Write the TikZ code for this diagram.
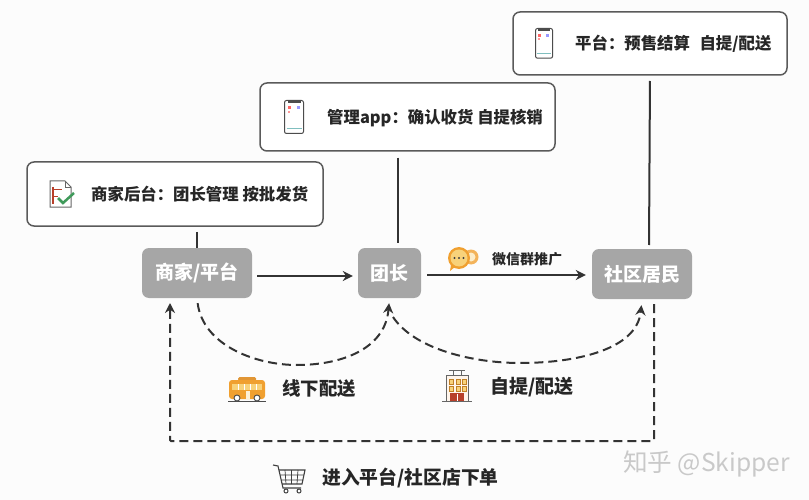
\documentclass[tikz,border=0pt]{standalone}
\usepackage{fontspec}
\setmainfont{Noto Sans CJK SC}
\usepackage{tikz}
\usetikzlibrary{arrows.meta}
\definecolor{boxgray}{HTML}{A6A6A6}
\definecolor{linedark}{HTML}{333333}
\definecolor{boxline}{HTML}{5A5A5A}
\definecolor{markgray}{HTML}{C9C9C9}
\definecolor{iconorange}{HTML}{F0A030}
\definecolor{iconyellow}{HTML}{F8D27A}
\definecolor{iconred}{HTML}{B8402A}
\definecolor{icongreen}{HTML}{3F9A5A}
\tikzstyle{infobox}=[draw=boxline,line width=1.5pt,rounded corners=7pt,fill=white,inner sep=0pt]
\tikzstyle{rolebox}=[fill=boxgray,rounded corners=7pt,text=white,font=\fontsize{19}{21}\selectfont\bfseries,inner sep=0pt,minimum height=50pt]
\tikzstyle{lbl}=[anchor=west,inner sep=0pt,text=black!85,font=\fontsize{16.4}{18}\selectfont\bfseries]
\tikzstyle{solidline}=[draw=linedark,line width=2pt]
\tikzstyle{solidarrow}=[solidline,-{Stealth[length=10pt,width=10pt]}]
\tikzstyle{dasharrow}=[draw=linedark,line width=2pt,dash pattern=on 9pt off 5pt,-{Stealth[length=10pt,width=10pt]}]
\newcommand{\phoneicon}[3]{
\draw[draw=black!70,line width=1pt,fill=white,rounded corners=2pt,shift={(#1,#2)},scale=#3] (0,0) rectangle (19,33);
\fill[black!70,shift={(#1,#2)},scale=#3] (3,0.5) rectangle (16,3);
\fill[red!60,shift={(#1,#2)},scale=#3] (3,6) rectangle (6,9);
\fill[blue!40,shift={(#1,#2)},scale=#3] (12,6) rectangle (15,9);
\fill[red!40,shift={(#1,#2)},scale=#3] (3,11) rectangle (5,13);
\draw[draw=teal!50,line width=.7pt,shift={(#1,#2)},scale=#3] (2,28) -- (17,28);
}
\begin{document}
\begin{tikzpicture}[x=1pt,y=-1pt]
\useasboundingbox (0,0) rectangle (809,500);
\fill[white!99!black] (0,0) rectangle (809,500);

\node[infobox,minimum width=296pt,minimum height=64pt] (backendbox) at (175,194) {};
\node[infobox,minimum width=295pt,minimum height=68pt] (leaderbox) at (407.5,117) {};
\node[infobox,minimum width=274pt,minimum height=63pt] (platformbox) at (650,43.5) {};
\node[lbl] (backendtxt) at (91,194) {商家后台：团长管理 按批发货};
\node[lbl] (leadertxt) at (327,118) {管理app：确认收货 自提核销};
\node[lbl] (platformtxt) at (575,44) {平台：预售结算\hspace{.35em} 自提/配送};

\node[rolebox,minimum width=110pt] (merchant) at (197,273) {商家/平台};
\node[rolebox,minimum width=63pt] (leader) at (389.5,273) {团长};
\node[rolebox,minimum width=100pt] (resident) at (642,274) {社区居民};

\coordinate (merchanttop) at (197,248);
\coordinate (leadertop) at (398,248);
\coordinate (residenttop) at (649,249);
\coordinate (platformout) at (650,75);
\coordinate (merchantin) at (170,298);
\coordinate (residentout) at (654,299);
\coordinate (cornerright) at (654,441);
\coordinate (cornerleft) at (170,441);

\draw[solidline,shorten <=5pt] (backendbox.south -| merchanttop) -- (merchanttop);
\draw[solidline,shorten <=6pt,shorten >=5pt] (leaderbox.south -| leadertop) -- (leadertop);
\draw[solidline,shorten <=6pt,shorten >=4pt] (platformout) -- (residenttop);
\draw[solidarrow,shorten <=5pt,shorten >=5pt] (merchant.east |- 0,276) -- (leader.west |- 0,276);
\draw[solidarrow,shorten <=6pt,shorten >=6pt] (leader.east |- 0,275) -- (resident.west |- 0,275);
\draw[dasharrow,shorten <=5pt,shorten >=5pt] (merchant.south) .. controls (203,345) and (255,365) .. (297,365) .. controls (340,365) and (385,350) .. (leader.south);
\draw[dasharrow,shorten >=6pt] (393,317) .. controls (415,350) and (475,363) .. (520,363) .. controls (575,363) and (637,350) .. (resident.south);
\draw[dasharrow,shorten <=5pt,shorten >=5pt,rounded corners=1pt] (residentout) -- (cornerright) -- (cornerleft) -- (merchantin);

\node[lbl] (wechattxt) at (492,259) {\fontsize{14}{15}\selectfont 微信群推广};
\node[lbl] (offlinetxt) at (282,389) {\fontsize{18.4}{20}\selectfont 线下配送};
\node[lbl] (pickuptxt) at (490,387) {\fontsize{19}{21}\selectfont 自提/配送};
\node[lbl] (ordertxt) at (322,478) {\fontsize{18.8}{21}\selectfont 进入平台/社区店下单};
\node[anchor=west,inner sep=0pt,text=markgray,font=\fontsize{24.6}{27}\selectfont] (watermark) at (623,464) {知乎 @Skipper};

\draw[draw=black!60,line width=1pt,fill=white] (50,181) -- (65,181) -- (71,187) -- (71,207) -- (50,207) -- cycle;
\draw[draw=black!60,line width=.8pt] (65,181) -- (65,187) -- (71,187);
\draw[draw=iconred,line width=1.3pt] (53,187) -- (53,204);
\draw[draw=iconred,line width=.9pt] (53,189) -- (62,189) (53,196) -- (58,196);
\draw[draw=icongreen,line width=2.5pt] (58,198) -- (63,203) -- (74,193);

\phoneicon{284.5}{100.5}{1}
\phoneicon{535.5}{28.5}{.9}

\fill[iconorange!80!white] (471,257) circle (7.5);
\fill[white!60!iconyellow] (471,257) circle (4.5);
\fill[iconorange] (459,258) circle (11);
\fill[iconorange] (451,265) -- (456,266) -- (450,271) -- cycle;
\fill[iconyellow] (459,258) circle (8.5);
\fill[black!75] (454.5,258) circle (1.2) (459,258) circle (1.2) (463.5,258) circle (1.2);

\fill[iconorange!70!brown,rounded corners=1.5pt] (238,377) rectangle (256,381);
\fill[iconorange,rounded corners=3pt] (229,380) rectangle (265,399);
\fill[iconyellow] (232,384) rectangle (262,390);
\draw[draw=white,line width=.8pt] (238,384) -- (238,390) (244,384) -- (244,390) (250,384) -- (250,390) (256,384) -- (256,390);
\fill[white!70!iconyellow] (246,391) rectangle (250,399);
\draw[draw=black!70,line width=.9pt] (228,401) -- (266,401);
\draw[draw=black!70,line width=.9pt,fill=white] (237,398) circle (3) (257,398) circle (3);

\draw[draw=black!60,line width=.9pt] (453,375) -- (453,370) (461,375) -- (461,370) (449,370) -- (465,370);
\draw[draw=black!60,line width=1pt,fill=white!92!orange] (446,375) rectangle (468,401);
\foreach \rowy in {379,386}{
\foreach \colx in {449,456,462}{
\draw[draw=iconorange!80!black,line width=.8pt,fill=iconyellow] (\colx,\rowy) rectangle (\colx+4,\rowy+5);
}}
\fill[iconred] (450,393) rectangle (464,401);
\draw[draw=white,line width=.7pt] (457,394) -- (457,401);
\draw[draw=black!60,line width=1pt] (442,401.5) -- (472,401.5);

\draw[draw=black!75,line width=1.1pt] (273,465) -- (278,466) -- (283,488) -- (301,488);
\draw[draw=black!75,line width=1.1pt] (279,470) -- (305,470) -- (302,484) -- (282,484);
\draw[draw=black!75,line width=.7pt] (280,475) -- (304,475) (281,480) -- (303,480) (285,470) -- (286,484) (291.5,470) -- (291.5,484) (298,470) -- (297,484);
\draw[draw=black!75,line width=1pt,fill=white] (286,491) circle (2) (299,491) circle (2);
\end{tikzpicture}
\end{document}
